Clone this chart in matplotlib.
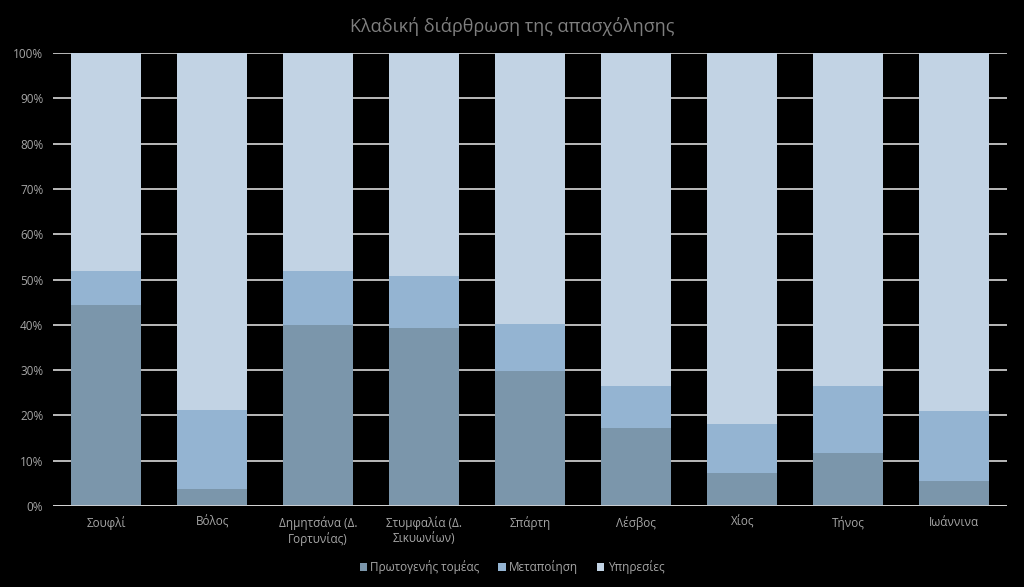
import matplotlib
matplotlib.use("Agg")
import matplotlib.pyplot as plt
import numpy as np

categories = ["Σουφλί", "Βόλος", "Δημητσάνα (Δ.\nΓορτυνίας)", "Στυμφαλία (Δ.\nΣικυωνίων)",
              "Σπάρτη", "Λέσβος", "Χίος", "Τήνος", "Ιωάννινα"]
primary = [44.4, 3.7, 40.0, 39.3, 29.7, 17.3, 7.2, 11.8, 5.6]
manufacturing = [7.5, 17.5, 11.9, 11.5, 10.5, 9.2, 11.0, 14.6, 15.4]
services = [100 - p - m for p, m in zip(primary, manufacturing)]
series_names = ["Πρωτογενής τομέας", "Μεταποίηση", "Υπηρεσίες"]
colors = ["#7b96ab", "#94b4d2", "#c2d3e4"]

plt.rcParams['font.family'] = ['Open Sans', 'DejaVu Sans']
fig = plt.figure(figsize=(10.24, 5.87), dpi=100, facecolor="black")
ax = fig.add_axes([0.0518, 0.138, 0.932, 0.7717], facecolor="black")

x = np.arange(len(categories))
bottom = np.zeros(len(categories))
for vals, name, c in zip([primary, manufacturing, services], series_names, colors):
    ax.bar(x, vals, width=0.66, bottom=bottom, color=c, label=name, zorder=3)
    bottom += np.array(vals)

ax.set_xlim(-0.5, len(categories) - 0.5)
ax.set_ylim(0, 100)
ax.set_yticks(np.arange(0, 101, 10))
ax.set_yticklabels([f"{v}%" for v in range(0, 101, 10)], color="#a6a6a6", fontsize=8.5)
ax.set_xticks(x)
ax.set_xticklabels(categories, color="#a6a6a6", fontsize=8.5)
ax.tick_params(axis="both", length=0, pad=7)
ax.grid(axis="y", color="#d9d9d9", linewidth=1.2, zorder=0)
for s in ax.spines.values():
    s.set_visible(False)
ax.axhline(0, color="#d9d9d9", linewidth=1.2, zorder=4)

fig.text(0.5, 0.955, "Κλαδική διάρθρωση της απασχόλησης", ha="center", va="center",
         color="#7f7f7f", fontsize=13)
leg = fig.legend(loc="center", bbox_to_anchor=(0.5, 0.034), ncol=3, frameon=False,
                 fontsize=8.5, handlelength=0.6, handleheight=0.6, handletextpad=0.3,
                 columnspacing=1.6)
for t in leg.get_texts():
    t.set_color("#a6a6a6")

fig.savefig("out.png", dpi=100, facecolor="black")
